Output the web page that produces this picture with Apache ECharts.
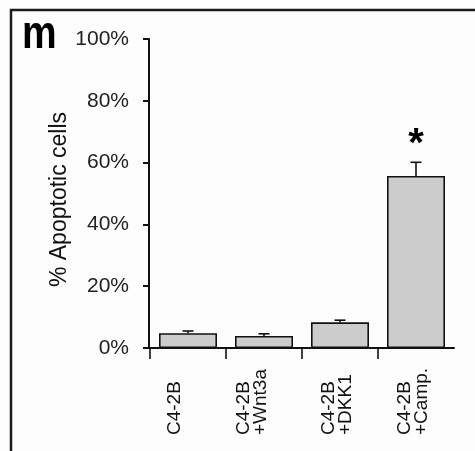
<!DOCTYPE html>
<html>
<head>
<meta charset="utf-8">
<script src="https://cdn.jsdelivr.net/npm/echarts@6/dist/echarts.min.js"></script>
<style>
  html, body { margin: 0; padding: 0; background: #fdfdfd; }
  #chart { width: 475px; height: 451px; }
</style>
</head>
<body>
<div id="chart"></div>
<script>
// Apoptosis in C4-2B cells under each treatment (mean % and SEM)
const categories = ['C4-2B', 'C4-2B\n+Wnt3a', 'C4-2B\n+DKK1', 'C4-2B\n+Camp.'];
const apoptoticPct = [4.8, 3.9, 8.3, 55.7];
const sem = [0.7, 0.7, 0.7, 4.4];
const significance = ['', '', '', '*'];
const yTicks = [0, 20, 40, 60, 80, 100];

// layout: leftward shift (px) of each category label block, done with a blank trailing line
const labelNudge = [13.5, 11.5, 2.5, 2.5];

const FONT = '"Liberation Sans", Arial, sans-serif';
const INK = '#111111';

const rich = { t: { fontFamily: FONT, fontSize: 19, lineHeight: 16.5, color: INK } };
labelNudge.forEach((n, i) => {
  rich['s' + i] = { fontSize: 1, lineHeight: 2 * n };
});

const chart = echarts.init(document.getElementById('chart'), null, { renderer: 'canvas' });

chart.setOption({
  backgroundColor: '#fdfdfd',
  animation: false,
  grid: { left: 150, top: 39, width: 304, height: 309, outerBoundsMode: 'none', containLabel: false },
  xAxis: {
    type: 'category',
    data: categories,
    boundaryGap: true,
    axisLine: { lineStyle: { color: INK, width: 2 } },
    axisTick: { show: false },
    axisLabel: {
      rotate: 90,
      align: 'left',
      margin: 87,
      formatter: function (value, index) {
        const lines = value.split('\n').map(l => '{t|' + l + '}');
        lines.push('{s' + index + '| }');
        return lines.join('\n');
      },
      rich: rich
    }
  },
  yAxis: {
    type: 'value',
    min: yTicks[0],
    max: yTicks[yTicks.length - 1],
    interval: yTicks[1] - yTicks[0],
    offset: 1,
    name: '% Apoptotic cells',
    nameLocation: 'middle',
    nameGap: 78,
    nameMoveOverlap: false,
    nameTextStyle: { fontFamily: FONT, fontSize: 23, color: INK, padding: [0, 12, 0, 0] },
    axisLine: { show: true, lineStyle: { color: INK, width: 2 } },
    axisTick: { show: true, length: 6, lineStyle: { color: INK, width: 2 } },
    axisLabel: {
      margin: 20,
      fontFamily: FONT,
      fontSize: 21,
      color: '#222',
      formatter: '{value}%'
    },
    splitLine: { show: false }
  },
  graphic: [
    {
      type: 'rect',
      shape: { x: 11, y: 10, width: 520, height: 520 },
      style: { fill: null, stroke: '#1a1a1a', lineWidth: 2.5 },
      silent: true
    },
    {
      type: 'text',
      x: 22, y: 58,
      scaleY: 1.17,
      style: {
        text: 'm',
        font: 'bold 39px ' + FONT,
        fill: '#000',
        textVerticalAlign: 'bottom'
      }
    }
  ],
  series: [
    {
      type: 'bar',
      data: apoptoticPct,
      barWidth: 58,
      itemStyle: { color: '#cccccc', borderColor: INK, borderWidth: 1.6 },
      z: 2
    },
    {
      // upper error whisker, category boundary tick and significance mark
      type: 'custom',
      data: apoptoticPct.map((v, i) => [i, v, sem[i]]),
      z: 3,
      renderItem: function (params, api) {
        const i = api.value(0);
        const v = api.value(1);
        const e = api.value(2);
        const top = api.coord([i, v]);
        const cap = api.coord([i, v + e]);
        const base = api.coord([i, 0]);
        const band = api.size([1, 0])[0];
        const children = [
          {
            type: 'line',
            shape: { x1: top[0], y1: top[1], x2: cap[0], y2: cap[1] },
            style: { stroke: INK, lineWidth: 1.6 }
          },
          {
            type: 'line',
            shape: { x1: cap[0] - 5.5, y1: cap[1], x2: cap[0] + 5.5, y2: cap[1] },
            style: { stroke: INK, lineWidth: 1.6 }
          },
          {
            type: 'line',
            shape: { x1: base[0] - band / 2, y1: base[1], x2: base[0] - band / 2, y2: base[1] + 11 },
            style: { stroke: INK, lineWidth: 1.6 }
          }
        ];
        const mark = significance[i];
        if (mark) {
          children.push({
            type: 'text',
            x: cap[0],
            y: cap[1] + 3,
            style: {
              text: mark,
              font: 'bold 40px ' + FONT,
              fill: '#000',
              textAlign: 'center',
              textVerticalAlign: 'bottom'
            }
          });
        }
        return { type: 'group', children: children };
      }
    }
  ]
});
</script>
</body>
</html>
